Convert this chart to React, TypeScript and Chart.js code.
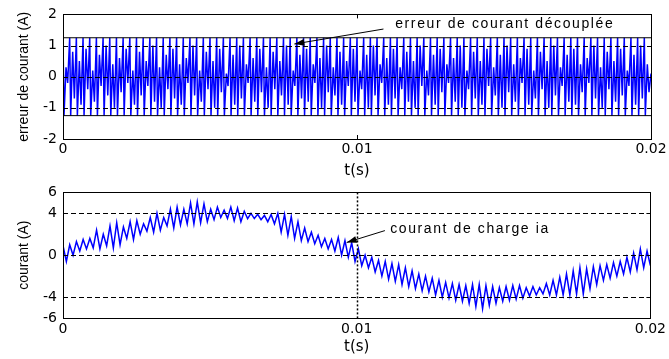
import React, { useEffect, useRef } from 'react';
import { Chart, registerables } from 'chart.js';
Chart.register(...registerables);

// ---------- data ----------
const timeTicks = [0, 0.01, 0.02];
const timeRange = [0, 0.02];

const errTicks = [-2, -1, 0, 1, 2];
const errGrid = [-1, 0, 1];
const bandLimit = 1.25;
// inner swings of the decoupled current error, one pair per switching cycle
const errInnerHigh = [0.3, 0.8, 0.5, 0.9, 0.2, 0.7, 1.0, 0.4, 0.6, 0.9,
  0.2, 0.8, 0.5, 1.0, 0.3, 0.7, 0.9, 0.4, 0.6, 1.0,
  0.2, 0.8, 0.5, 0.9, 0.1, 0.7, 1.0, 0.4, 0.6, 0.9,
  0.3, 0.8, 0.5, 1.0, 0.2, 0.7, 0.9, 0.4, 0.6, 1.0,
  0.3, 0.8, 0.5, 0.9, 0.2, 0.7, 1.0, 0.4, 0.6, 0.9,
  0.3, 0.8, 0.5, 1.0, 0.2, 0.7, 0.9, 0.4, 0.6, 1.0,
  0.2, 0.8, 0.5, 0.9, 0.3, 0.7, 1.0, 0.4, 0.6, 0.9,
  0.2, 0.8, 0.5, 1.0, 0.3, 0.7, 0.9, 0.4, 0.6, 1.0,
  0.3, 0.8, 0.5, 0.9, 0.2, 0.7, 1.0, 0.4];
const errInnerLow = [-0.2, -0.7, -0.9, -0.4, -0.8, -0.3, -0.6, -1.0, -0.5, -0.2,
  -0.9, -0.6, -0.3, -0.8, -1.0, -0.4, -0.7, -0.9, -0.2, -0.6,
  -0.8, -0.4, -1.0, -0.5, -0.3, -0.9, -0.7, -0.2, -0.8, -0.5,
  -1.0, -0.4, -0.6, -0.9, -0.3, -0.7, -0.8, -0.2, -1.0, -0.5,
  -0.6, -0.9, -0.3, -0.8, -0.4, -1.0, -0.6, -0.2, -0.9, -0.7,
  -0.4, -0.8, -1.0, -0.3, -0.6, -0.9, -0.5, -0.2, -0.8, -1.0,
  -0.4, -0.7, -0.9, -0.3, -0.6, -1.0, -0.5, -0.8, -0.2, -0.9,
  -0.7, -0.4, -1.0, -0.6, -0.3, -0.8, -0.9, -0.5, -0.2, -0.7,
  -1.0, -0.4, -0.8, -0.6, -0.3, -0.9, -0.7, -0.5];
const errCyclePhases = [0, 0.15, 0.45, 0.7];
const errEndValue = 0.1;

const loadTicks = [-6, -4, 0, 4, 6];
const loadGrid = [-4, 0, 4];
const loadGridTimes = [0.01];
// load current ripple: local maxima / minima, one pair per switching cycle
const loadHigh = [0.9, 1.0, 1.3, 1.5, 1.6, 2.4, 2.0, 2.8, 3.1, 2.7,
  3.2, 3.3, 3.0, 3.6, 4.0, 3.6, 4.4, 4.6, 4.4, 5.0,
  5.1, 4.9, 4.4, 4.6, 4.3, 4.6, 4.5, 4.2, 4.0, 3.9,
  3.8, 3.9, 4.0, 3.9, 3.7, 3.2, 2.6, 2.2, 1.9, 1.6,
  1.5, 1.7, 1.4, 1.2, 0.6, 0.0, -0.2, -0.5, -0.6, -0.8,
  -0.9, -1.2, -1.5, -1.8, -2.0, -2.2, -2.4, -2.6, -2.7, -2.8,
  -2.9, -2.8, -2.8, -2.9, -3.0, -3.1, -3.0, -2.9, -2.9, -3.1,
  -3.0, -3.1, -2.7, -2.4, -2.1, -1.8, -1.5, -1.2, -1.3, -1.1,
  -1.0, -0.9, -0.7, -0.6, -0.2, 0.2, 0.6, 0.4];
const loadLow = [-0.6, 0.0, 0.4, 0.6, 0.7, 0.6, 0.9, 0.7, 1.0, 1.6,
  1.5, 2.0, 2.3, 2.2, 2.4, 2.8, 2.6, 2.9, 3.0, 3.0,
  3.1, 3.2, 3.4, 3.6, 3.5, 3.3, 3.2, 3.5, 3.5, 3.4,
  3.2, 3.0, 2.2, 1.9, 1.6, 1.4, 1.3, 1.1, 0.8, 0.6,
  0.4, 0.0, -0.2, -0.6, -1.0, -1.2, -1.6, -2.0, -2.3, -2.5,
  -2.8, -3.0, -3.2, -3.4, -3.5, -3.8, -4.0, -4.1, -4.3, -4.4,
  -4.6, -4.9, -5.1, -4.8, -4.6, -4.4, -4.3, -4.2, -4.1, -3.9,
  -3.8, -3.7, -3.8, -3.8, -3.8, -3.8, -3.7, -3.7, -3.2, -2.8,
  -2.4, -2.2, -2.0, -1.8, -1.6, -1.4, -1.2, -1.0];

const errAnnotation = { text: 'erreur de courant découplée', at: [0.0113, 1.68], from: [0.0109, 1.53], to: [0.00787, 1.05] };
const loadAnnotation = { text: 'courant de charge ia', at: [0.01114, 2.5], from: [0.01096, 2.35], to: [0.00966, 1.22] };

// ---------- series built from the arrays ----------
function buildErrorSeries() {
  const n = errInnerHigh.length;
  const period = (timeRange[1] - timeRange[0]) / n;
  const pts: { x: number; y: number }[] = [];
  for (let i = 0; i < n; i++) {
    const vals = [bandLimit, -bandLimit, errInnerHigh[i], errInnerLow[i]];
    for (let k = 0; k < 4; k++) pts.push({ x: (i + errCyclePhases[k]) * period, y: vals[k] });
  }
  pts.push({ x: timeRange[1], y: errEndValue });
  return pts;
}
function buildLoadSeries() {
  const vals: number[] = [];
  for (let i = 0; i < loadHigh.length; i++) { vals.push(loadHigh[i], loadLow[i]); }
  const step = (timeRange[1] - timeRange[0]) / (vals.length - 1);
  return vals.map((v, k) => ({ x: k * step, y: v }));
}

// ---------- drawing helpers ----------
function overlay(o: any) {
  return {
    id: 'overlay',
    afterDatasetsDraw(chart: any) {
      const { ctx, chartArea: a, scales } = chart;
      const sx = scales.x, sy = scales.y;
      ctx.save();
      ctx.strokeStyle = '#000';
      ctx.lineWidth = 1;
      ctx.setLineDash([5, 3]);
      for (const v of o.gridY) {
        const y = Math.round(sy.getPixelForValue(v)) + 0.5;
        ctx.beginPath(); ctx.moveTo(a.left, y); ctx.lineTo(a.right, y); ctx.stroke();
      }
      ctx.setLineDash([2, 2]);
      ctx.lineWidth = 1.5;
      for (const t of o.gridX) {
        const x = Math.round(sx.getPixelForValue(t)) + 0.5;
        ctx.beginPath(); ctx.moveTo(x, a.top); ctx.lineTo(x, a.bottom); ctx.stroke();
      }
      ctx.setLineDash([]);
      ctx.lineWidth = 1;
      for (const t of o.ticksX) {
        const x = Math.round(sx.getPixelForValue(t)) + 0.5;
        ctx.beginPath(); ctx.moveTo(x, a.top); ctx.lineTo(x, a.top + 4);
        ctx.moveTo(x, a.bottom); ctx.lineTo(x, a.bottom - 4); ctx.stroke();
      }
      for (const v of o.ticksY) {
        const y = Math.round(sy.getPixelForValue(v)) + 0.5;
        ctx.beginPath(); ctx.moveTo(a.left, y); ctx.lineTo(a.left + 4, y);
        ctx.moveTo(a.right, y); ctx.lineTo(a.right - 4, y); ctx.stroke();
      }
      ctx.strokeRect(Math.round(a.left) + 0.5, Math.round(a.top) + 0.5, Math.round(a.right - a.left), Math.round(a.bottom - a.top));
      const an = o.annotation;
      const tx = sx.getPixelForValue(an.at[0]), ty = sy.getPixelForValue(an.at[1]);
      const fx = sx.getPixelForValue(an.from[0]), fy = sy.getPixelForValue(an.from[1]);
      const px = sx.getPixelForValue(an.to[0]), py = sy.getPixelForValue(an.to[1]);
      ctx.beginPath(); ctx.moveTo(fx, fy); ctx.lineTo(px, py); ctx.stroke();
      const ang = Math.atan2(py - fy, px - fx);
      const L = 10, W = 3.5;
      ctx.fillStyle = '#000';
      ctx.beginPath();
      ctx.moveTo(px, py);
      ctx.lineTo(px - L * Math.cos(ang) + W * Math.sin(ang), py - L * Math.sin(ang) - W * Math.cos(ang));
      ctx.lineTo(px - L * Math.cos(ang) - W * Math.sin(ang), py - L * Math.sin(ang) + W * Math.cos(ang));
      ctx.closePath(); ctx.fill();
      ctx.font = '14px "Liberation Sans", Arial, sans-serif';
      (ctx as any).letterSpacing = '1.6px';
      ctx.textBaseline = 'middle';
      ctx.textAlign = 'left';
      ctx.fillText(an.text, tx, ty);
      (ctx as any).letterSpacing = '0px';
      ctx.restore();
    },
  };
}

const tickFont = { family: '"DejaVu Sans", sans-serif', size: 14 };

function makeConfig(p: any) {
  return {
    type: 'line',
    data: { datasets: p.datasets },
    options: {
      animation: false,
      responsive: false,
      devicePixelRatio: 1,
      layout: { padding: { top: 9, right: 18, left: 0, bottom: 0 } },
      elements: { point: { radius: 0 }, line: { tension: 0 } },
      plugins: { legend: { display: false }, tooltip: { enabled: false } },
      scales: {
        x: {
          type: 'linear', min: timeRange[0], max: timeRange[1],
          afterBuildTicks: (s: any) => { s.ticks = timeTicks.map((v) => ({ value: v })); },
          afterFit: (s: any) => { s.height = p.xHeight; },
          grid: { display: false, drawTicks: false },
          border: { display: false },
          ticks: { color: '#000', font: tickFont, padding: p.xTickPad, maxRotation: 0, autoSkip: false,
            callback: (v: number) => String(Number(Number(v).toFixed(3))) },
          title: { display: true, text: 't(s)', color: '#000', font: { family: '"DejaVu Sans", sans-serif', size: 15 }, padding: { top: 0, bottom: p.xTitlePad } },
        },
        y: {
          type: 'linear', min: p.yTicks[0], max: p.yTicks[p.yTicks.length - 1],
          afterBuildTicks: (s: any) => { s.ticks = p.yTicks.map((v: number) => ({ value: v })); },
          afterFit: (s: any) => { s.width = 63; },
          grid: { display: false, drawTicks: false },
          border: { display: false },
          ticks: { color: '#000', font: tickFont, padding: 6, callback: (v: number) => String(v) },
          title: { display: true, text: p.yTitle, color: '#000', font: { family: '"Liberation Sans", Arial, sans-serif', size: 14 }, padding: { top: 16, bottom: 0 } },
        },
      },
    },
    plugins: [overlay(p.overlay)],
  };
}

function Panel({ top, height, build }: { top: number; height: number; build: () => any }) {
  const ref = useRef<HTMLCanvasElement>(null);
  useEffect(() => {
    const chart = new Chart(ref.current as HTMLCanvasElement, build());
    return () => chart.destroy();
  }, []);
  return <canvas ref={ref} width={669} height={height} style={{ position: 'absolute', left: 0, top, width: 669, height, display: 'block' }} />;
}

export default function App() {
  const buildTop = () => makeConfig({
    yTicks: errTicks, yTitle: 'erreur de courant (A)', xHeight: 39, xTickPad: 2, xTitlePad: -2,
    overlay: { gridY: errGrid, gridX: [], ticksX: [timeTicks[1]], ticksY: errGrid, annotation: errAnnotation },
    datasets: [
      { data: [{ x: timeRange[0], y: bandLimit }, { x: timeRange[1], y: bandLimit }], borderColor: '#000', borderWidth: 1 },
      { data: [{ x: timeRange[0], y: -bandLimit }, { x: timeRange[1], y: -bandLimit }], borderColor: '#000', borderWidth: 1 },
      { data: buildErrorSeries(), borderColor: '#0000ff', borderWidth: 1.5 },
    ],
  });
  const buildBottom = () => makeConfig({
    yTicks: loadTicks, yTitle: 'courant (A)', xHeight: 41, xTickPad: 3, xTitlePad: 3,
    overlay: { gridY: loadGrid, gridX: loadGridTimes, ticksX: [], ticksY: loadGrid, annotation: loadAnnotation },
    datasets: [
      { data: buildLoadSeries(), borderColor: '#0000ff', borderWidth: 1.5 },
    ],
  });
  return (
    <div style={{ position: 'fixed', left: 0, top: 0, width: 669, height: 359, background: '#fff' }}>
      <Panel top={0} height={178} build={buildTop} />
      <Panel top={178} height={181} build={buildBottom} />
    </div>
  );
}
